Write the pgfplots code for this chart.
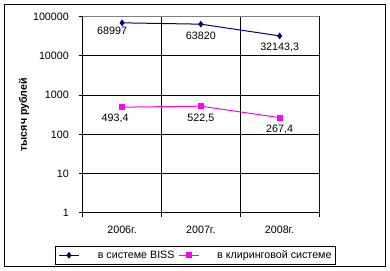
\documentclass[border=0pt]{standalone}
\usepackage{fontspec}
\setmainfont{Liberation Sans}
\usepackage{pgfplots}
\pgfplotsset{compat=1.18}
\definecolor{biss}{HTML}{000080}
\definecolor{clr}{HTML}{FF00FF}
\begin{document}
\begin{tikzpicture}[x=1bp,y=1bp]
\useasboundingbox (0,0) rectangle (390,271);
\draw[black,line width=1bp] (4.5,4.5) rectangle (385,266.5);
\begin{axis}[
  at={(82.7bp,58bp)}, anchor=south west,
  scale only axis, width=236.3bp, height=196.5bp,
  font=\fontsize{10.7bp}{12.8bp}\selectfont,
  /pgf/number format/assume math mode=true,
  ymode=log, log basis y=10,
  ymin=1, ymax=100000,
  xmin=-0.5, xmax=2.5,
  ytick={1,10,100,1000,10000,100000},
  yticklabels={1,10,100,1000,10000,100000},
  yminorticks=false,
  xtick={-0.5,0.5,1.5,2.5}, xticklabels={,,,},
  minor xtick={0.5,1.5}, xminorgrids=true,
  extra x ticks={0,1,2},
  extra x tick labels={2006г.,2007г.,2008г.},
  extra x tick style={major tick length=0pt, xmajorgrids=false},
  ymajorgrids=true,
  grid style={black, line width=1bp},
  minor grid style={black, line width=1bp},
  axis line style={black, line width=1bp},
  tick style={black, line width=1bp},
  tick align=outside, major tick length=4bp, minor tick length=4bp,
  xtick pos=bottom, ytick pos=left,
  yticklabel style={anchor=east, inner sep=0pt, xshift=-9.7bp},
  xticklabel style={anchor=north, inner sep=0pt, yshift=-12.7bp},
  ylabel={\bfseries тысяч рублей},
  ylabel style={at={(axis description cs:-0.2484,0.5)}, anchor=center, inner sep=0pt},
  nodes near coords,
  point meta=explicit symbolic,
  visualization depends on={value \coordindex \as \idx},
  every node near coord/.append style={anchor=north, inner sep=0pt, yshift=-7bp, text=black, font=\fontsize{10.7bp}{12.8bp}\selectfont},
  legend columns=2,
  legend image code/.code={\draw[mark repeat=2,mark phase=2,#1] plot coordinates {(0bp,0bp) (10bp,0bp) (20bp,0bp)};},
  legend style={at={(axis description cs:-0.1172,-0.168)}, anchor=north west,
    draw=black, line width=1bp, inner xsep=3bp, inner ysep=3.5bp,
    nodes={inner sep=0pt, text height=8bp, text depth=2.5bp},
    font=\fontsize{10.7bp}{12.8bp}\selectfont},
]
\addplot[biss, line width=1bp, mark=diamond*, mark size=2.6bp, mark options={solid},
  every node near coord/.append style={xshift={-10*(\idx==0)*1bp}, yshift={3.5*(\idx==0)*1bp}}] coordinates {
  (0,68997) [68997]
  (1,63820) [63820]
  (2,32143.3) [{32143,3}]
};
\addlegendentry{\makebox[99bp][r]{в системе BISS\hspace{4bp}}}
\addplot[clr, line width=1bp, mark=square*, mark size=2.4bp, mark options={solid},
  every node near coord/.append style={xshift={-7*(\idx==0)*1bp}, yshift={1*(\idx==0)*1bp}}] coordinates {
  (0,493.4) [{493,4}]
  (1,522.5) [{522,5}]
  (2,267.4) [{267,4}]
};
\addlegendentry{\makebox[133bp][r]{в клиринговой системе\hspace{1bp}}}
\draw[gray, line width=1bp] (rel axis cs:0,1) -- (rel axis cs:1,1) -- (rel axis cs:1,0);
\end{axis}
\end{tikzpicture}
\end{document}
